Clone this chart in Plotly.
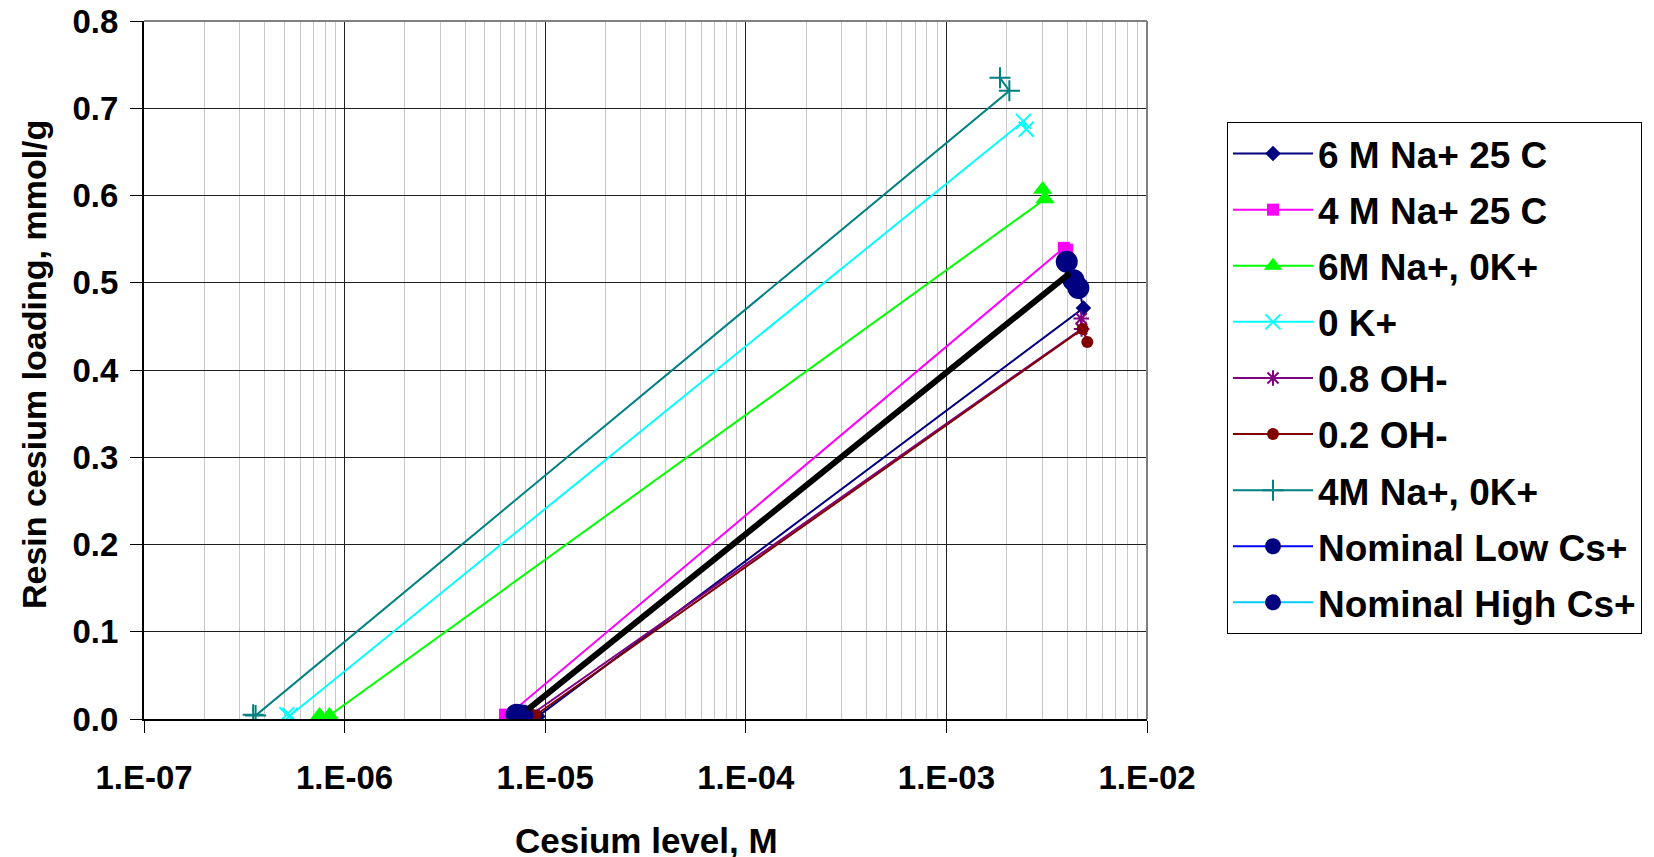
import plotly.graph_objects as go

# ---------------- data ----------------
names = ["6 M Na+ 25 C", "4 M Na+ 25 C", "6M Na+, 0K+", "0 K+", "0.8 OH-", "0.2 OH-", "4M Na+, 0K+"]

x_6M25 = [8.6e-6, 9.2e-6, 4.82e-3, 4.6e-3]
y_6M25 = [0.004, 0.003, 0.471, 0.490]

x_4M25 = [6.3e-6, 6.5e-6, 3.85e-3, 4.0e-3]
y_4M25 = [0.005, 0.004, 0.540, 0.538]

x_6M0K = [7.5e-7, 8.4e-7, 3.10e-3, 3.02e-3]
y_6M0K = [0.004, 0.004, 0.596, 0.607]

x_0K = [5.15e-7, 5.35e-7, 2.42e-3, 2.50e-3]
y_0K = [0.005, 0.004, 0.685, 0.676]

x_08OH = [8.0e-6, 8.4e-6, 4.72e-3, 4.70e-3]
y_08OH = [0.005, 0.004, 0.447, 0.459]

x_02OH = [8.5e-6, 8.9e-6, 4.78e-3, 5.04e-3]
y_02OH = [0.005, 0.004, 0.447, 0.432]

x_4M0K = [3.5e-7, 3.6e-7, 2.06e-3, 1.85e-3]
y_4M0K = [0.005, 0.004, 0.720, 0.735]

x_nom_low = [7.2e-6, None, 3.98e-3]
y_nom_low = [0.005, None, 0.524]

x_nom_high = [7.7e-6, None, 4.30e-3, None, 4.55e-3]
y_nom_high = [0.004, None, 0.503, None, 0.494]

x_fit = [8.2e-6, 4.13e-3]
y_fit = [0.011, 0.511]

x_tickvals = [1e-7, 1e-6, 1e-5, 1e-4, 1e-3, 1e-2]
x_ticktext = ["1.E-07", "1.E-06", "1.E-05", "1.E-04", "1.E-03", "1.E-02"]
y_tickvals = [0.0, 0.1, 0.2, 0.3, 0.4, 0.5, 0.6, 0.7, 0.8]

# ---------------- styling ----------------
FONT = "Liberation Sans, Arial, sans-serif"
OFF = 8  # browser body margin

series = [
    (names[0], x_6M25, y_6M25, "#000080", dict(symbol="diamond", size=12, color="#000080")),
    (names[1], x_4M25, y_4M25, "#ff00ff", dict(symbol="square", size=12, color="#ff00ff")),
    (names[2], x_6M0K, y_6M0K, "#00ff00", dict(symbol="triangle-up", size=17, color="#00ff00")),
    (names[3], x_0K, y_0K, "#00ffff", dict(symbol="x-thin-open", size=15, color="#00ffff",
                                           line=dict(color="#00ffff", width=2))),
    (names[4], x_08OH, y_08OH, "#800080", dict(symbol="asterisk-open", size=13, color="#800080",
                                               line=dict(color="#800080", width=2))),
    (names[5], x_02OH, y_02OH, "#800000", dict(symbol="circle", size=12, color="#800000")),
    (names[6], x_4M0K, y_4M0K, "#008080", dict(symbol="cross-thin-open", size=15, color="#008080",
                                               line=dict(color="#008080", width=2))),
]

fig = go.Figure()
for name, xs, ys, col, mk in series:
    fig.add_trace(go.Scatter(
        x=xs, y=ys, name=name, legendgroup=name, mode="lines+markers",
        line=dict(color=col, width=2),
        marker=mk,
    ))

fig.add_trace(go.Scatter(
    x=x_nom_low, y=y_nom_low, name="Nominal Low Cs+", legendgroup="nl", mode="lines+markers",
    connectgaps=False, line=dict(color="#0000ff", width=2),
    marker=dict(symbol="circle", size=22, color="#000080"),
))
fig.add_trace(go.Scatter(
    x=x_nom_high, y=y_nom_high, name="Nominal High Cs+", legendgroup="nh", mode="lines+markers",
    connectgaps=False, line=dict(color="#00ccff", width=2),
    marker=dict(symbol="circle", size=22, color="#000080"),
))
fig.add_trace(go.Scatter(
    x=x_fit, y=y_fit, mode="lines", showlegend=False,
    line=dict(color="#000000", width=6),
))

W, H = 1654, 857
L, R, T, B = 144 - OFF, 1147 - OFF, 21 - OFF, 719 - OFF
PW, PH = R - L, B - T

fig.update_layout(
    width=W, height=H,
    margin=dict(l=L, r=W - R, t=T, b=H - B, autoexpand=False),
    paper_bgcolor="white", plot_bgcolor="white",
    font=dict(family=FONT, size=33, color="black", weight="bold"),
    showlegend=True,
    legend=dict(
        x=(1227 - OFF - L) / PW, y=(B - (122 - OFF)) / PH, xanchor="left", yanchor="top",
        font=dict(family=FONT, size=37, color="black", weight="bold"),
        bordercolor="#000000", borderwidth=1, bgcolor="white",
        itemwidth=80, tracegroupgap=5,
    ),
    annotations=[
        dict(text="Cesium level, M", xref="paper", yref="paper",
             x=(646 - OFF - L) / PW, y=(B - (840 - OFF)) / PH, xanchor="center", yanchor="middle",
             showarrow=False, font=dict(family=FONT, size=35, color="black", weight="bold")),
        dict(text="Resin cesium loading, mmol/g", xref="paper", yref="paper",
             x=(34 - OFF - L) / PW, y=(B - (365 - OFF)) / PH, xanchor="center", yanchor="middle",
             textangle=-90, showarrow=False,
             font=dict(family=FONT, size=34, color="black", weight="bold")),
    ],
    shapes=[
        dict(type="line", xref="paper", yref="paper", x0=0, x1=1, y0=1, y1=1,
             line=dict(color="#808080", width=2)),
        dict(type="line", xref="paper", yref="paper", x0=1, x1=1, y0=0, y1=1,
             line=dict(color="#808080", width=2)),
    ],
)

fig.update_xaxes(
    type="log", range=[-7, -2],
    tickmode="array", tickvals=x_tickvals, ticktext=x_ticktext,
    ticks="outside", ticklen=12, tickcolor="black", tickwidth=1,
    showline=True, linecolor="black", linewidth=2,
    showgrid=True, gridcolor="#202020", gridwidth=1,
    minor=dict(dtick="D1", showgrid=True, gridcolor="#c8c8c8", gridwidth=1, ticks=""),
    ticklabelstandoff=16,
    tickfont=dict(family=FONT, size=33, color="black", weight="bold"),
    zeroline=False,
)
fig.update_yaxes(
    range=[0, 0.8], tickmode="array", tickvals=y_tickvals, tickformat=".1f",
    ticks="outside", ticklen=12, tickcolor="black", tickwidth=1,
    showline=True, linecolor="black", linewidth=2,
    showgrid=True, gridcolor="#202020", gridwidth=1,
    ticklabelstandoff=5, ticklabeloverflow="allow",
    tickfont=dict(family=FONT, size=33, color="black", weight="bold"),
    zeroline=False,
)

fig.write_html("out.html")
